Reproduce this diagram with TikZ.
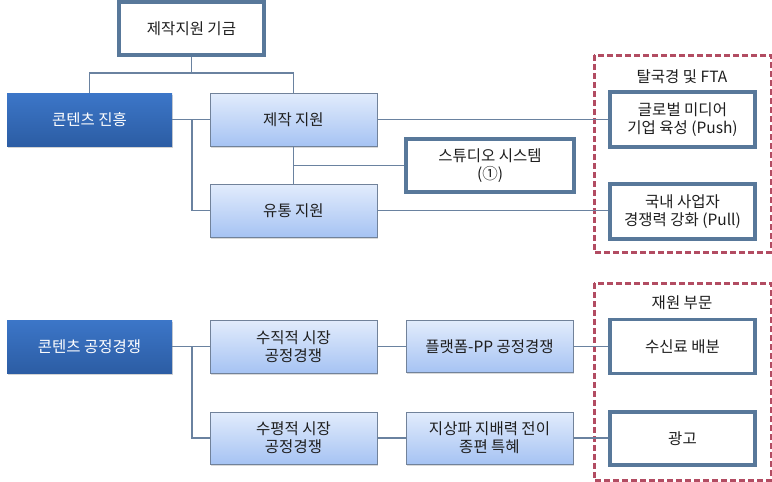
\documentclass[tikz,border=0pt]{standalone}
\usepackage{fontspec}
\setmainfont{Noto Sans CJK KR}
\usetikzlibrary{shadows}
\definecolor{steel}{HTML}{58789A}
\definecolor{linec}{HTML}{6A82A0}
\definecolor{darktop}{HTML}{3C76C8}
\definecolor{darkbot}{HTML}{2C5DA4}
\definecolor{lighttop}{HTML}{E2ECFC}
\definecolor{lightbot}{HTML}{A6C3F3}
\definecolor{lightborder}{HTML}{71829A}
\definecolor{dashred}{HTML}{B24C62}
\definecolor{txt}{HTML}{1E1E1E}
\tikzset{
  base/.style={rectangle, inner sep=2pt, align=center, text=txt,
    font=\fontsize{15.5}{18}\selectfont},
  whitebox/.style={base, draw=steel, line width=3.2pt, fill=white},
  darkbox/.style={base, draw=none, top color=darktop, bottom color=darkbot, text=white,
    drop shadow={shadow xshift=1pt, shadow yshift=-1.5pt, opacity=0.35}},
  lightbox/.style={base, draw=lightborder, line width=1pt, top color=lighttop, bottom color=lightbot,
    drop shadow={shadow xshift=1pt, shadow yshift=-1.5pt, opacity=0.3}},
  conn/.style={draw=linec, line width=1.1pt},
  redframe/.style={draw=dashred, line width=3pt, dash pattern=on 6pt off 3pt},
  grouplabel/.style={base},
}
\begin{document}
\begin{tikzpicture}[x=1pt,y=-1pt]
\useasboundingbox (0,0) rectangle (772,482);

% dashed frames
\draw[redframe] (594,55) rectangle (771,252);
\draw[redframe] (594,283) rectangle (771,480);
\node[grouplabel] (lab1) at (682,77) {탈국경 및 FTA};
\node[grouplabel] (lab2) at (682,303) {재원 부문};

% top half
\node[whitebox, minimum width=145pt, minimum height=53pt] (fund) at (191.5,28.5) {제작지원 기금};
\node[darkbox, minimum width=165pt, minimum height=53pt] (jin) at (89.5,119.5) {콘텐츠 진흥};
\node[lightbox, minimum width=167pt, minimum height=53pt] (jejak) at (293.5,119.5) {제작 지원};
\node[lightbox, minimum width=167pt, minimum height=53pt] (yutong) at (293.5,210.5) {유통 지원};
\node[whitebox, minimum width=168pt, minimum height=53pt] (studio) at (490,165.5) {스튜디오 시스템\\(①)};
\node[whitebox, minimum width=145pt, minimum height=55pt] (global) at (682.5,119.5) {글로벌 미디어\\기업 육성 (Push)};
\node[whitebox, minimum width=145pt, minimum height=55pt] (guknae) at (682.5,211.5) {국내 사업자\\경쟁력 강화 (Pull)};

% bottom half
\node[darkbox, minimum width=165pt, minimum height=53pt] (gong) at (89.5,346.5) {콘텐츠 공정경쟁};
\node[lightbox, minimum width=167pt, minimum height=53pt] (sujik) at (293.5,346.5) {수직적 시장\\공정경쟁};
\node[lightbox, minimum width=167pt, minimum height=52pt] (supyeong) at (293.5,438) {수평적 시장\\공정경쟁};
\node[lightbox, minimum width=167pt, minimum height=52pt] (platform) at (489.5,346.5) {플랫폼-PP 공정경쟁};
\node[lightbox, minimum width=167pt, minimum height=52pt] (jisang) at (489.5,438) {지상파 지배력 전이\\종편 특혜};
\node[whitebox, minimum width=145pt, minimum height=54pt] (susin) at (682.5,346.5) {수신료 배분};
\node[whitebox, minimum width=145pt, minimum height=53pt] (ad) at (682.5,438.5) {광고};

% connectors top
\coordinate (bus) at (191.5,73);
\coordinate (br1) at (192,119.5);
\coordinate (br2) at (293.5,165.5);
\draw[conn] (fund.south) -- (bus);
\draw[conn] (jin.north) |- (bus) -| (jejak.north);
\draw[conn] (jin.east) -- (jejak.west);
\draw[conn] (br1) |- (yutong.west);
\draw[conn] (jejak.south) -- (yutong.north);
\draw[conn] (br2) -- (studio.west);
\draw[conn] (jejak.east) -- (global.west);
\draw[conn] (yutong.east) -- (yutong.east -| guknae.west);

% connectors bottom
\coordinate (br3) at (192,346.5);
\draw[conn] (gong.east) -- (sujik.west);
\draw[conn] (br3) |- (supyeong.west);
\draw[conn] (sujik.east) -- (platform.west);
\draw[conn] (supyeong.east) -- (jisang.west);
\draw[conn] (platform.east) -- (susin.west);
\draw[conn] (jisang.east) -- (jisang.east -| ad.west);
\end{tikzpicture}
\end{document}
